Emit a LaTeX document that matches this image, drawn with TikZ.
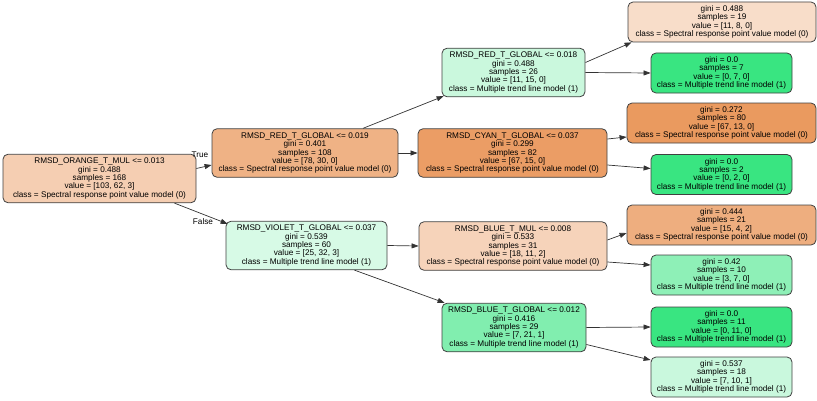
\documentclass[tikz,border=0pt]{standalone}
\usepackage{fontspec}
\setmainfont{Liberation Sans}
\usetikzlibrary{arrows.meta}
\definecolor{cRoot}{HTML}{F5CEB2}
\definecolor{cA}{HTML}{EFB285}
\definecolor{cB}{HTML}{D7FAE6}
\definecolor{cC}{HTML}{CAF8DD}
\definecolor{cD}{HTML}{EB9D65}
\definecolor{cE}{HTML}{F6D3BA}
\definecolor{cF}{HTML}{81EEAF}
\definecolor{cLa}{HTML}{F8DDC9}
\definecolor{cPure}{HTML}{39E581}
\definecolor{cLc}{HTML}{EA9A5F}
\definecolor{cLe}{HTML}{EEAE7F}
\definecolor{cLf}{HTML}{8EF0B7}
\definecolor{cLh}{HTML}{C9F8DD}
\definecolor{edgecol}{HTML}{333333}
\definecolor{bordercol}{HTML}{404040}
\tikzset{
  tnode/.style={draw=bordercol, line width=0.8pt, rounded corners=5pt, align=center,
    inner sep=0pt, font=\fontsize{8.2}{8.4}\selectfont, text=black},
  inner/.style={tnode, minimum height=48.5pt},
  leaf/.style={tnode, minimum height=40pt},
  edge/.style={draw=edgecol, line width=0.7pt, -{Triangle[length=7pt,width=5pt]}},
  elabel/.style={font=\fontsize{8.2}{8.4}\selectfont, text=black}
}
\begin{document}
\begin{tikzpicture}[x=1pt,y=1pt]
\useasboundingbox (0,0) rectangle (817,400);
% inner nodes (y = 400 - image y)
\node[inner, fill=cRoot, minimum width=193pt] (root) at (99.5,221.5)
 {RMSD\_ORANGE\_T\_MUL <= 0.013\\gini = 0.488\\samples = 168\\value = [103, 62, 3]\\class = Spectral response point value model (0)};
\node[inner, fill=cA, minimum width=186pt] (A) at (305,247)
 {RMSD\_RED\_T\_GLOBAL <= 0.019\\gini = 0.401\\samples = 108\\value = [78, 30, 0]\\class = Spectral response point value model (0)};
\node[inner, fill=cB, minimum width=161pt] (B) at (306.5,154.5)
 {RMSD\_VIOLET\_T\_GLOBAL <= 0.037\\gini = 0.539\\samples = 60\\value = [25, 32, 3]\\class = Multiple trend line model (1)};
\node[inner, fill=cC, minimum width=143pt] (C) at (513.5,327.5)
 {RMSD\_RED\_T\_GLOBAL <= 0.018\\gini = 0.488\\samples = 26\\value = [11, 15, 0]\\class = Multiple trend line model (1)};
\node[inner, fill=cD, minimum width=189pt] (D) at (512.5,247)
 {RMSD\_CYAN\_T\_GLOBAL <= 0.037\\gini = 0.299\\samples = 82\\value = [67, 15, 0]\\class = Spectral response point value model (0)};
\node[inner, fill=cE, minimum width=188pt] (E) at (513,154)
 {RMSD\_BLUE\_T\_MUL <= 0.008\\gini = 0.533\\samples = 31\\value = [18, 11, 2]\\class = Spectral response point value model (0)};
\node[inner, fill=cF, minimum width=144pt] (F) at (514,72.5)
 {RMSD\_BLUE\_T\_GLOBAL <= 0.012\\gini = 0.416\\samples = 29\\value = [7, 21, 1]\\class = Multiple trend line model (1)};
% leaves
\node[leaf, fill=cLa, minimum width=188pt] (L1) at (722,378)
 {gini = 0.488\\samples = 19\\value = [11, 8, 0]\\class = Spectral response point value model (0)};
\node[leaf, fill=cPure, minimum width=141pt] (L2) at (721.5,327)
 {gini = 0.0\\samples = 7\\value = [0, 7, 0]\\class = Multiple trend line model (1)};
\node[leaf, fill=cLc, minimum width=189pt] (L3) at (721.5,277)
 {gini = 0.272\\samples = 80\\value = [67, 13, 0]\\class = Spectral response point value model (0)};
\node[leaf, fill=cPure, minimum width=141pt] (L4) at (721.5,225.5)
 {gini = 0.0\\samples = 2\\value = [0, 2, 0]\\class = Multiple trend line model (1)};
\node[leaf, fill=cLe, minimum width=189pt] (L5) at (721.5,175)
 {gini = 0.444\\samples = 21\\value = [15, 4, 2]\\class = Spectral response point value model (0)};
\node[leaf, fill=cLf, minimum width=141pt] (L6) at (721.5,125)
 {gini = 0.42\\samples = 10\\value = [3, 7, 0]\\class = Multiple trend line model (1)};
\node[leaf, fill=cPure, minimum width=141pt] (L7) at (721.5,73)
 {gini = 0.0\\samples = 11\\value = [0, 11, 0]\\class = Multiple trend line model (1)};
\node[leaf, fill=cLh, minimum width=141pt] (L8) at (721.5,23)
 {gini = 0.537\\samples = 18\\value = [7, 10, 1]\\class = Multiple trend line model (1)};
% edges
\draw[edge] ([yshift=10pt]root.east) -- ([yshift=-12pt]A.west);
\draw[edge] ([xshift=75pt]root.south) -- ([xshift=2pt,yshift=-3pt]B.north west);
\draw[edge] ([xshift=58pt]A.north) -- ([xshift=2pt,yshift=1pt]C.south west);
\draw[edge] (A.east) -- (D.west);
\draw[edge] (B.east) -- (E.west);
\draw[edge] ([xshift=48pt]B.south) -- ([xshift=3pt]F.north west);
\draw[edge] ([yshift=10pt]C.east) -- ([xshift=4pt]L1.south west);
\draw[edge] (C.east) -- (L2.west);
\draw[edge] ([yshift=14pt]D.east) -- ([yshift=-14pt]L3.west);
\draw[edge] ([yshift=-12pt]D.east) -- ([yshift=6pt]L4.west);
\draw[edge] ([yshift=6pt]E.east) -- ([yshift=-8pt]L5.west);
\draw[edge] ([yshift=-16pt]E.east) -- ([yshift=10pt]L6.west);
\draw[edge] (F.east) -- (L7.west);
\draw[edge] ([yshift=-17pt]F.east) -- ([yshift=17pt]L8.west);
% edge labels
\node[elabel] (tlabel) at (200,245) {True};
\node[elabel] (flabel) at (203,178) {False};
\end{tikzpicture}
\end{document}
